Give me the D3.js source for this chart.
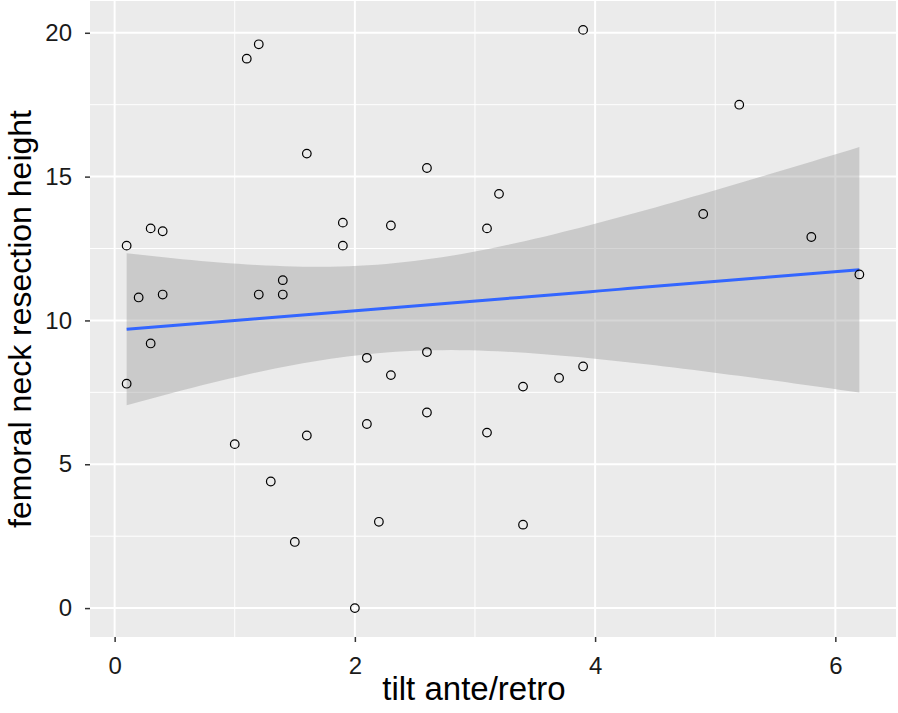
<!DOCTYPE html>
<html>
<head>
<meta charset="utf-8">
<script src="https://cdn.jsdelivr.net/npm/d3@7"></script>
<style>
  body { margin: 0; background: #fff; }
  text { font-family: "Liberation Sans", Arial, sans-serif; }
</style>
</head>
<body>
<svg id="chart" width="898" height="713"></svg>
<script>
// tilt (x) and resection height (y)
var tilt = [0.1, 0.1, 0.2, 0.3, 0.3, 0.4, 0.4, 1.0, 1.1, 1.2,
            1.2, 1.3, 1.4, 1.4, 1.5, 1.6, 1.6, 1.9, 1.9, 2.0,
            2.1, 2.1, 2.2, 2.3, 2.3, 2.6, 2.6, 2.6, 3.1, 3.1,
            3.2, 3.4, 3.4, 3.7, 3.9, 3.9, 4.9, 5.2, 5.8, 6.2];
var height = [12.6, 7.8, 10.8, 13.2, 9.2, 13.1, 10.9, 5.7, 19.1, 19.6,
              10.9, 4.4, 11.4, 10.9, 2.3, 15.8, 6.0, 13.4, 12.6, 0.0,
              8.7, 6.4, 3.0, 13.3, 8.1, 15.3, 8.9, 6.8, 13.2, 6.1,
              14.4, 7.7, 2.9, 8.0, 8.4, 20.1, 13.7, 17.5, 12.9, 11.6];
var xTicks = [0, 2, 4, 6];
var yTicks = [0, 5, 10, 15, 20];
var xMinor = [1, 3, 5];
var yMinor = [2.5, 7.5, 12.5, 17.5];

var panel = {left: 90, top: 1, right: 896, bottom: 637};

var xExt = d3.extent(tilt), yExt = d3.extent(height);
var xPad = (xExt[1] - xExt[0]) * 0.05, yPad = (yExt[1] - yExt[0]) * 0.05;
var x = d3.scaleLinear().domain([xExt[0] - xPad, xExt[1] + xPad]).range([panel.left, panel.right]);
var y = d3.scaleLinear().domain([yExt[0] - yPad, yExt[1] + yPad]).range([panel.bottom, panel.top]);

var svg = d3.select("#chart");

svg.append("rect")
  .attr("x", panel.left).attr("y", panel.top)
  .attr("width", panel.right - panel.left).attr("height", panel.bottom - panel.top)
  .attr("fill", "#EBEBEB");

var grid = svg.append("g");
grid.selectAll(".xmin").data(xMinor).enter().append("line")
  .attr("x1", d => x(d)).attr("x2", d => x(d)).attr("y1", panel.top).attr("y2", panel.bottom)
  .attr("stroke", "#fff").attr("stroke-width", 1);
grid.selectAll(".ymin").data(yMinor).enter().append("line")
  .attr("y1", d => y(d)).attr("y2", d => y(d)).attr("x1", panel.left).attr("x2", panel.right)
  .attr("stroke", "#fff").attr("stroke-width", 1);
grid.selectAll(".xmaj").data(xTicks).enter().append("line")
  .attr("x1", d => x(d)).attr("x2", d => x(d)).attr("y1", panel.top).attr("y2", panel.bottom)
  .attr("stroke", "#fff").attr("stroke-width", 2);
grid.selectAll(".ymaj").data(yTicks).enter().append("line")
  .attr("y1", d => y(d)).attr("y2", d => y(d)).attr("x1", panel.left).attr("x2", panel.right)
  .attr("stroke", "#fff").attr("stroke-width", 2);

// linear fit with 95% confidence band (like geom_smooth(method = "lm"))
var n = tilt.length;
var mx = d3.mean(tilt), my = d3.mean(height);
var sxx = d3.sum(tilt, d => (d - mx) * (d - mx));
var sxy = d3.sum(tilt, (d, i) => (d - mx) * (height[i] - my));
var b1 = sxy / sxx, b0 = my - b1 * mx;
var sse = d3.sum(tilt, (d, i) => Math.pow(height[i] - (b0 + b1 * d), 2));
var s = Math.sqrt(sse / (n - 2));
var tq = 2.024; // t(0.975, df = 38)
var fit = d3.range(80).map(function(i) {
  var xv = xExt[0] + (xExt[1] - xExt[0]) * i / 79;
  var yv = b0 + b1 * xv;
  var se = s * Math.sqrt(1 / n + (xv - mx) * (xv - mx) / sxx);
  return {x: xv, y: yv, lo: yv - tq * se, hi: yv + tq * se};
});

svg.append("path").datum(fit)
  .attr("d", d3.area().x(d => x(d.x)).y0(d => y(d.lo)).y1(d => y(d.hi)))
  .attr("fill", "#999999").attr("fill-opacity", 0.4);

svg.append("path").datum(fit)
  .attr("d", d3.line().x(d => x(d.x)).y(d => y(d.y)))
  .attr("fill", "none").attr("stroke", "#3366FF").attr("stroke-width", 3);

svg.append("g").selectAll("circle").data(tilt).enter().append("circle")
  .attr("cx", d => x(d)).attr("cy", (d, i) => y(height[i])).attr("r", 4.3)
  .attr("fill", "none").attr("stroke", "#000").attr("stroke-width", 1.2);

// axes
var xAxis = svg.append("g").attr("transform", "translate(0," + panel.bottom + ")")
  .call(d3.axisBottom(x).tickValues(xTicks).tickFormat(d3.format("d")).tickSize(5).tickPadding(15));
var yAxis = svg.append("g").attr("transform", "translate(" + panel.left + ",0)")
  .call(d3.axisLeft(y).tickValues(yTicks).tickFormat(d3.format("d")).tickSize(5).tickPadding(13));
[xAxis, yAxis].forEach(function(a) {
  a.select(".domain").remove();
  a.selectAll(".tick line").attr("stroke", "#333").attr("stroke-width", 1.5);
  a.selectAll(".tick text").attr("fill", "#1a1a1a").style("font-size", "24px")
    .style("font-family", "'Liberation Sans', Arial, sans-serif");
});
xAxis.selectAll(".tick text").attr("dy", "0.71em");

svg.append("text")
  .attr("x", 474).attr("y", 700)
  .attr("text-anchor", "middle").style("font-size", "33px").attr("fill", "#000")
  .text("tilt ante/retro");

svg.append("text")
  .attr("transform", "translate(31," + (panel.top + panel.bottom) / 2 + ") rotate(-90)")
  .attr("text-anchor", "middle").style("font-size", "32px").attr("fill", "#000")
  .text("femoral neck resection height");
</script>
</body>
</html>
